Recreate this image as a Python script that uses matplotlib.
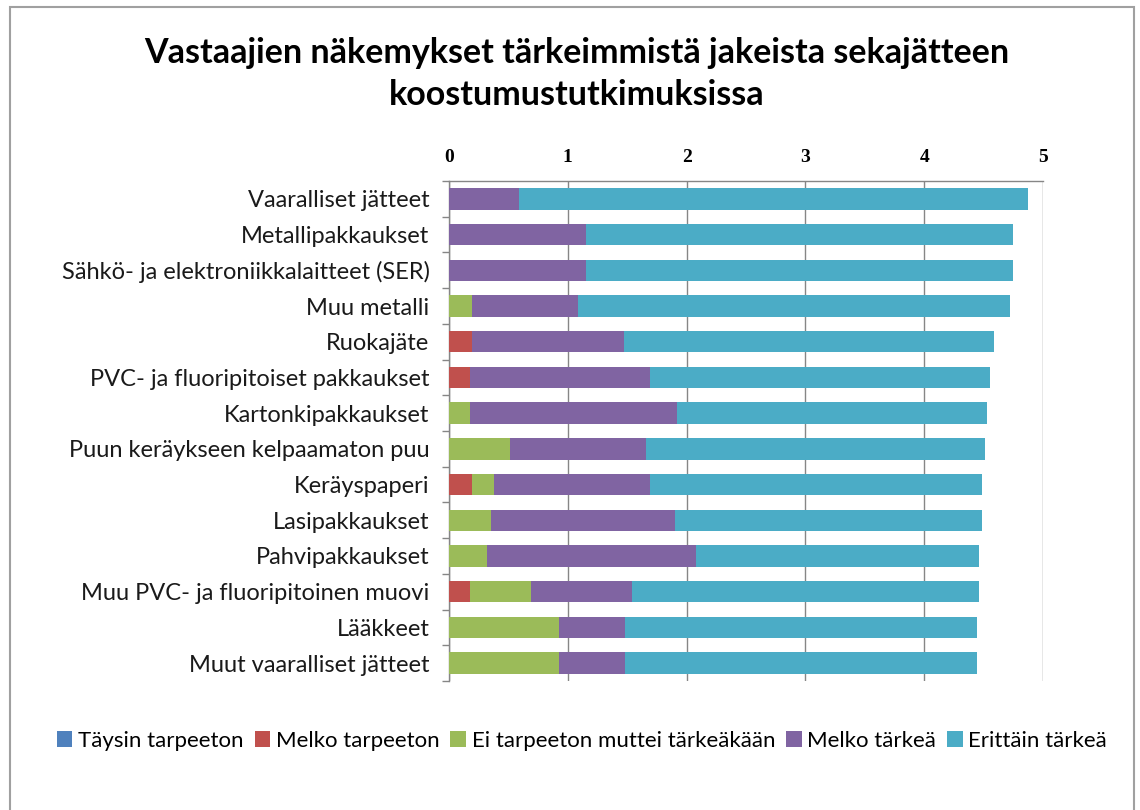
import numpy as np
import matplotlib.pyplot as plt
from matplotlib.patches import Rectangle
from matplotlib.ticker import FixedLocator

# ==========================================
# Data
# ==========================================
categories = [
    "Vaaralliset jätteet",
    "Metallipakkaukset",
    "Sähkö- ja elektroniikkalaitteet (SER)",
    "Muu metalli",
    "Ruokajäte",
    "PVC- ja fluoripitoiset pakkaukset",
    "Kartonkipakkaukset",
    "Puun keräykseen kelpaamaton puu",
    "Keräyspaperi",
    "Lasipakkaukset",
    "Pahvipakkaukset",
    "Muu PVC- ja fluoripitoinen muovi",
    "Lääkkeet",
    "Muut vaaralliset jätteet",
]

series_names = ["Täysin tarpeeton", "Melko tarpeeton", "Ei tarpeeton muttei tärkeäkään",
                "Melko tärkeä", "Erittäin tärkeä"]

taysin_tarpeeton = [0, 0, 0, 0, 0, 0, 0, 0, 0, 0, 0, 0, 0, 0]
melko_tarpeeton = [0, 0, 0, 0, 0.19, 0.18, 0, 0, 0.19, 0, 0, 0.18, 0, 0]
ei_tarpeeton = [0, 0, 0, 0.19, 0, 0, 0.18, 0.51, 0.185, 0.355, 0.32, 0.51, 0.93, 0.93]
melko_tarkea = [0.59, 1.15, 1.15, 0.90, 1.28, 1.51, 1.74, 1.15, 1.315, 1.545, 1.76, 0.85, 0.55, 0.55]
erittain_tarkea = [4.28, 3.60, 3.60, 3.63, 3.12, 2.86, 2.61, 2.85, 2.80, 2.59, 2.38, 2.92, 2.965, 2.965]

colors = ["#4F81BD", "#C0504D", "#9BBB59", "#8064A2", "#4BACC6"]

title = "Vastaajien näkemykset tärkeimmistä jakeista sekajätteen\nkoostumustutkimuksissa"

# ==========================================
# Plot
# ==========================================
plt.rcParams['font.family'] = ['Lato', 'DejaVu Sans']

fig = plt.figure(figsize=(11.4, 8.1), dpi=100)
ax = fig.add_axes([449 / 1140, 1 - 681 / 810, (1043 - 449) / 1140, (681 - 181) / 810])

y = np.arange(len(categories))
left = np.zeros(len(categories))
for name, vals, col in zip(series_names,
                           [taysin_tarpeeton, melko_tarpeeton, ei_tarpeeton, melko_tarkea, erittain_tarkea],
                           colors):
    vals = np.array(vals)
    ax.barh(y, vals, left=left, height=0.6, color=col, label=name, zorder=3)
    left += vals

ax.set_xlim(0, 5)
ax.set_ylim(len(categories) - 0.5, -0.5)

grid_col = "#868686"
ax.xaxis.tick_top()
ax.set_xticks(range(6))
ax.set_xticklabels([str(i) for i in range(6)], fontfamily='Liberation Serif',
                   fontweight='bold', fontsize=14)
ax.tick_params(axis='x', length=0, pad=11)
ax.grid(axis='x', color=grid_col, linewidth=1, zorder=0)

ax.set_yticks(y)
ax.set_yticklabels(categories, fontsize=17, color="#1a1a1a")
ax.tick_params(axis='y', which='major', length=0, pad=14)
ax.yaxis.set_minor_locator(FixedLocator(np.arange(-0.5, len(categories), 1.0)))
ax.tick_params(axis='y', which='minor', length=5, color=grid_col, width=1)

for s in ['right', 'bottom']:
    ax.spines[s].set_visible(False)
for s in ['top', 'left']:
    ax.spines[s].set_color(grid_col)
    ax.spines[s].set_linewidth(1)

fig.text(577 / 1140, 1 - 74 / 810, title, ha='center', va='center',
         fontsize=24.5, fontweight='bold', linespacing=1.4)

handles, labels = ax.get_legend_handles_labels()
fig.legend(handles, labels, loc='center', bbox_to_anchor=(582 / 1140, 1 - 741 / 810),
           ncol=5, frameon=False, fontsize=16, handlelength=0.7, handleheight=0.7,
           handletextpad=0.25, columnspacing=0.5)

fig.patches.append(Rectangle((10 / 1140, -0.05), 1124 / 1140, 1.05 - 7 / 810,
                             transform=fig.transFigure, fill=False,
                             edgecolor="#A0A0A0", linewidth=1.5))

fig.savefig("out.png", dpi=100, facecolor='white')
